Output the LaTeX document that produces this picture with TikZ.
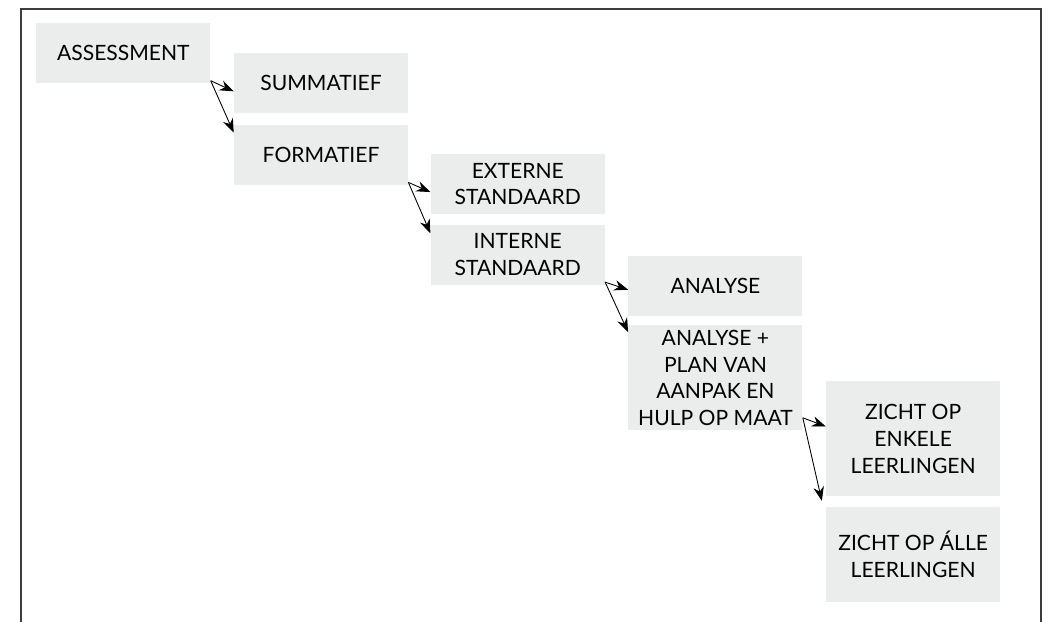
\documentclass[tikz,border=0pt]{standalone}
\usepackage{fontspec}
\setmainfont{Lato}
\usetikzlibrary{positioning,arrows.meta}
\definecolor{vakgrijs}{HTML}{EBECEC}
\definecolor{kader}{HTML}{3C3C3C}

\begin{document}
\begin{tikzpicture}[vak/.style={fill=vakgrijs, rectangle, minimum width=3.48cm, minimum height=1.2cm, align=center, inner sep=0pt, font=\fontsize{12}{15.2}\selectfont}, pijl/.style={-{Stealth[length=2.8mm, width=2.1mm]}, line width=0.5pt}, node distance=0.2cm]
    \useasboundingbox (0,0) rectangle (21,-12.44);
    \draw[kader, line width=1.1pt] (0.42,-12.44) -- (0.42,-0.18) -- (20.82,-0.18) -- (20.82,-12.44);

    \node[vak, anchor=north west] (ass) at (0.72,-0.46) {ASSESSMENT};
    \node[vak, below right=0.6cm and 0.46cm of ass.north east] (sum) {SUMMATIEF};
    \node[vak, below=0.22cm of sum] (form) {FORMATIEF};
    \node[vak, below right=0.58cm and 0.44cm of form.north east] (ext) {EXTERNE \\ STANDAARD};
    \node[vak, below=0.2cm of ext] (int) {INTERNE \\ STANDAARD};
    \node[vak, below right=0.62cm and 0.46cm of int.north east] (ana) {ANALYSE};
    \node[vak, minimum height=2.1cm, below=0.18cm of ana] (plan) {ANALYSE + \\ PLAN VAN \\ AANPAK EN \\ HULP OP MAAT};
    \node[vak, minimum height=2.3cm, below right=1.12cm and 0.46cm of plan.north east] (enk) {ZICHT OP \\ ENKELE \\ LEERLINGEN};
    \node[vak, minimum height=1.9cm, below=0.2cm of enk] (alle) {ZICHT OP ÁLLE \\ LEERLINGEN};

    \draw[pijl] ([yshift=0.06cm]ass.south east) -- ([yshift=-0.16cm]sum.west);
    \draw[pijl] ([yshift=0.06cm]ass.south east) -- ([yshift=-0.16cm]form.north west);
    \draw[pijl] ([yshift=0.06cm]form.south east) -- ([yshift=-0.16cm]ext.west);
    \draw[pijl] ([yshift=0.06cm]form.south east) -- ([yshift=-0.18cm]int.north west);
    \draw[pijl] ([yshift=0.06cm]int.south east) -- ([yshift=-0.08cm]ana.west);
    \draw[pijl] ([yshift=0.06cm]int.south east) -- ([yshift=-0.14cm]plan.north west);
    \draw[pijl] ([yshift=0.26cm]plan.south east) -- ([yshift=0.25cm]enk.west);
    \draw[pijl] ([yshift=0.26cm]plan.south east) -- ([xshift=-0.08cm, yshift=0.12cm]alle.north west);
\end{tikzpicture}
\end{document}
